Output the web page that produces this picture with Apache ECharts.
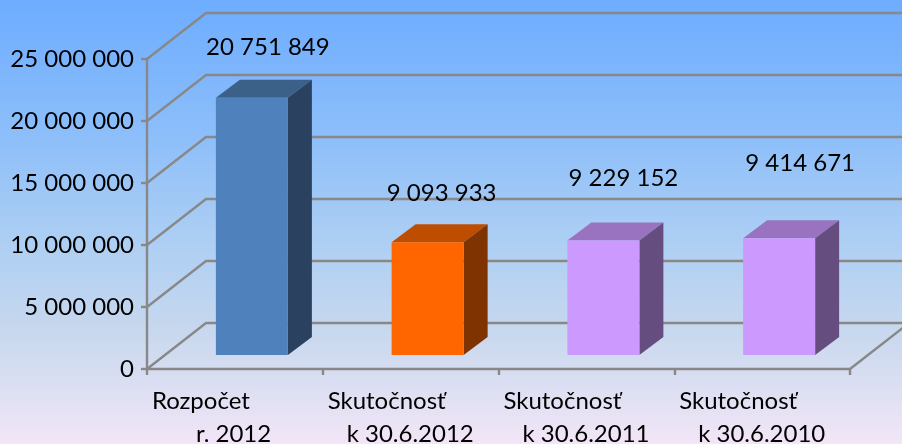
<!DOCTYPE html>
<html><head><meta charset="utf-8">
<style>html,body{margin:0;padding:0;background:#fff}#c{width:902px;height:444px}</style>
<script src="https://cdn.jsdelivr.net/npm/echarts@6/dist/echarts.min.js"></script>
</head><body><div id="c"></div>
<script>
var categoryLine1 = ['Rozpočet', 'Skutočnosť', 'Skutočnosť', 'Skutočnosť'];
var categoryLine2 = ['r. 2012', 'k 30.6.2012', 'k 30.6.2011', 'k 30.6.2010'];
var barValues = [20751849, 9093933, 9229152, 9414671];
var yTicks = [0, 5000000, 10000000, 15000000, 20000000, 25000000];

var palette = [
  {front:'#4F81BD', top:'#3C6188', side:'#2A415F'},
  {front:'#FF6600', top:'#BF4D00', side:'#7F3300'},
  {front:'#CC99FF', top:'#9973BF', side:'#664D80'},
  {front:'#CC99FF', top:'#9973BF', side:'#664D80'}
];
var labelOffsets = [[33,-50],[31,-49],[37,-62],[38,-75]];
var FONT = 'Lato';
var FS = 24;
var WALL = {dx:59, dy:-46};
var BAR = {shift:17, lift:-14, width:72, dx:24, dy:-18};
var GRID = '#888888';
var GW = 2.4;

function fmt(v){ return String(v).replace(/\B(?=(\d{3})+$)/g,' '); }

var categories = categoryLine1.map(function(a,i){ return a+'\n'+categoryLine2[i]; });

var chart = echarts.init(document.getElementById('c'), null, {renderer:'canvas'});
chart.setOption({
  animation:false,
  backgroundColor:{type:'linear',x:0,y:0,x2:0,y2:1,colorStops:[
    {offset:0,color:'#6DACFF'},{offset:0.3,color:'#8CBEFA'},
    {offset:0.55,color:'#AECFF3'},{offset:0.75,color:'#C8D8EE'},{offset:1,color:'#F2E6F7'}]},
  grid:{left:147,right:52,top:59,bottom:75,outerBoundsMode:'none'},
  xAxis:{type:'category',data:categories,
    axisLine:{lineStyle:{color:GRID,width:GW}},
    axisTick:{show:true,alignWithLabel:false,length:6,lineStyle:{color:GRID,width:GW}},
    axisLabel:{interval:0,margin:16,color:'#000',fontFamily:FONT,fontSize:FS,
      formatter:function(v){
        var p=v.split('\n');
        return '{a|'+p[0]+'}\n'+(p[1].length<8?'{b|':'{c|')+p[1]+'}';
      },
      rich:{
        a:{width:166,align:'left',height:33,lineHeight:33,fontFamily:FONT,fontSize:FS,color:'#000'},
        b:{width:122,padding:[0,0,0,44],align:'left',height:33,lineHeight:33,fontFamily:FONT,fontSize:FS,color:'#000'},
        c:{width:147,padding:[0,0,0,19],align:'left',height:33,lineHeight:33,fontFamily:FONT,fontSize:FS,color:'#000'}
      }}},
  yAxis:{type:'value',min:0,max:25000000,interval:5000000,
    axisLine:{show:true,lineStyle:{color:GRID,width:GW}},
    axisTick:{show:true,length:6,lineStyle:{color:GRID,width:GW}},
    splitLine:{show:false},
    axisLabel:{margin:13,padding:[5,0,0,0],color:'#000',fontFamily:FONT,fontSize:FS,formatter:fmt}},
  series:[
    {type:'custom',z:1,silent:true,clip:false,
     data:yTicks.map(function(t){return [0,t];}),
     renderItem:function(params,api){
       var cs=params.coordSys, y=api.coord([0,api.value(1)])[1], x0=cs.x, x1=cs.x+cs.width;
       var st={stroke:GRID,lineWidth:GW,fill:null};
       var kids=[{type:'polyline',shape:{points:[[x0,y],[x0+WALL.dx,y+WALL.dy],[x1+WALL.dx,y+WALL.dy]]},style:st}];
       if(api.value(1)===0){
         kids.push({type:'line',shape:{x1:x1,y1:y,x2:x1+WALL.dx,y2:y+WALL.dy},style:st});
       }
       return {type:'group',children:kids};
     }},
    {type:'custom',z:3,silent:true,clip:false,
     data:barValues.map(function(v,i){return [i,v];}),
     renderItem:function(params,api){
       var i=api.value(0), v=api.value(1), c=palette[i], off=labelOffsets[i];
       var top=api.coord([i,v]), base=api.coord([i,0]);
       var l=top[0]+BAR.shift-BAR.width/2, r=l+BAR.width;
       var t=top[1]+BAR.lift, b=base[1]+BAR.lift, dx=BAR.dx, dy=BAR.dy;
       return {type:'group',children:[
         {type:'polygon',shape:{points:[[l,t],[r,t],[r+dx,t+dy],[l+dx,t+dy]]},style:{fill:c.top}},
         {type:'polygon',shape:{points:[[r,t],[r+dx,t+dy],[r+dx,b+dy],[r,b]]},style:{fill:c.side}},
         {type:'rect',shape:{x:l,y:t,width:BAR.width,height:b-t},style:{fill:c.front}},
         {type:'text',x:top[0]+off[0],y:t+off[1],style:{text:fmt(v),fill:'#000',font:FS+'px '+FONT,align:'center',verticalAlign:'middle'}}
       ]};
     }}
  ]
});
</script></body></html>
